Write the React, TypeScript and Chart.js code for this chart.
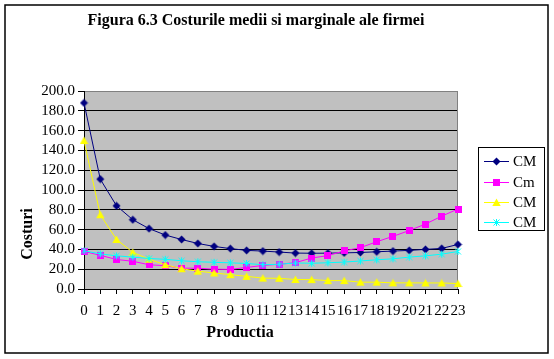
import React, { useEffect, useRef } from 'react';
import { Chart, registerables } from 'chart.js';

Chart.register(...registerables);

const chartTitle = 'Figura 6.3 Costurile medii si marginale ale firmei';
const xTitle = 'Productia';
const yTitle = 'Costuri';

const productia = ['0', '1', '2', '3', '4', '5', '6', '7', '8', '9', '10', '11', '12', '13', '14', '15', '16', '17', '18', '19', '20', '21', '22', '23'];

const costMediuTotal = [188, 111, 84, 70, 61, 54.5, 50, 46, 43, 40.8, 39, 38.3, 37.3, 36.3, 36.1, 36.2, 36.5, 36.9, 37.6, 38.3, 39, 40, 41, 45];
const costMarginal = [38, 34, 29.8, 28, 24.5, 23.5, 21, 21, 20, 19.8, 21.8, 23.8, 25, 26.6, 31.3, 33.7, 38.5, 41.8, 47.7, 53.2, 59, 65.6, 73.6, 80.8];
const costMediuFix = [150, 75, 50, 37, 30, 24.5, 20.5, 18, 16.2, 14.5, 12.8, 11, 10.8, 9.6, 9.5, 8.5, 8.5, 6.9, 6.9, 6.2, 6.2, 6.1, 6.1, 5.5];
const costMediuVariabil = [38.6, 35.5, 33.5, 32.2, 30.8, 30, 28.5, 27.5, 27, 26.4, 25.8, 24.5, 25, 26.3, 26, 26.5, 27.2, 28.3, 29.5, 30.5, 32.2, 33.5, 35.2, 37.9];

const seriesNames = ['CM', 'Cm', 'CM', 'CM'];
const seriesColors = ['#000080', '#FF00FF', '#FFFF00', '#00FFFF'];
const seriesMarkers = ['diamond', 'square', 'triangle', 'asterisk'];

const FONT = "'Liberation Serif', 'Times New Roman', serif";

function makeMarker(kind: string, color: string): HTMLCanvasElement {
  const c = document.createElement('canvas');
  const size = kind === 'square' ? 7 : 9;
  c.width = size;
  c.height = size;
  const ctx = c.getContext('2d')!;
  ctx.fillStyle = color;
  ctx.strokeStyle = color;
  if (kind === 'diamond') {
    ctx.beginPath();
    ctx.moveTo(4.5, 0.5);
    ctx.lineTo(8.5, 4.5);
    ctx.lineTo(4.5, 8.5);
    ctx.lineTo(0.5, 4.5);
    ctx.closePath();
    ctx.fill();
  } else if (kind === 'square') {
    ctx.fillRect(0, 0, 7, 7);
  } else if (kind === 'triangle') {
    ctx.beginPath();
    ctx.moveTo(4.5, 0.5);
    ctx.lineTo(8.7, 8);
    ctx.lineTo(0.3, 8);
    ctx.closePath();
    ctx.fill();
  } else {
    ctx.lineWidth = 1;
    ctx.beginPath();
    ctx.moveTo(1.5, 1.5);
    ctx.lineTo(7.5, 7.5);
    ctx.moveTo(7.5, 1.5);
    ctx.lineTo(1.5, 7.5);
    ctx.moveTo(4.5, 1);
    ctx.lineTo(4.5, 8);
    ctx.stroke();
  }
  return c;
}

export default function App() {
  const ref = useRef<HTMLCanvasElement>(null);

  useEffect(() => {
    if (!ref.current) return;
    const markers = seriesMarkers.map((m, i) => makeMarker(m, seriesColors[i]));
    const values = [costMediuTotal, costMarginal, costMediuFix, costMediuVariabil];

    const decor = {
      id: 'decor',
      beforeDraw(chart: any) {
        const { ctx, chartArea } = chart;
        ctx.save();
        ctx.fillStyle = '#FFFFFF';
        ctx.fillRect(0, 0, chart.width, chart.height);
        ctx.fillStyle = '#C0C0C0';
        ctx.fillRect(chartArea.left, chartArea.top, chartArea.right - chartArea.left, chartArea.bottom - chartArea.top);
        ctx.restore();
      },
      beforeDatasetsDraw(chart: any) {
        const { ctx, chartArea } = chart;
        ctx.save();
        ctx.strokeStyle = '#808080';
        ctx.lineWidth = 1;
        ctx.beginPath();
        ctx.moveTo(Math.round(chartArea.right) - 0.5, chartArea.top);
        ctx.lineTo(Math.round(chartArea.right) - 0.5, chartArea.bottom);
        ctx.stroke();
        ctx.restore();
      },
      afterDraw(chart: any) {
        const { ctx } = chart;
        ctx.save();
        // outer border
        ctx.strokeStyle = '#000';
        ctx.lineWidth = 1.5;
        ctx.strokeRect(5, 5, 543, 348);
        // title
        ctx.fillStyle = '#000';
        ctx.textAlign = 'center';
        ctx.textBaseline = 'middle';
        ctx.font = `bold 16px ${FONT}`;
        ctx.fillText(chartTitle, 256, 21);
        // x title
        ctx.font = `bold 16px ${FONT}`;
        ctx.fillText(xTitle, 240, 333);
        // y title
        ctx.save();
        ctx.translate(28, 234);
        ctx.rotate(-Math.PI / 2);
        ctx.fillText(yTitle, 0, 0);
        ctx.restore();
        // legend
        ctx.lineWidth = 1;
        ctx.strokeStyle = '#000';
        ctx.strokeRect(478.5, 147.5, 66, 83);
        ctx.font = `15px ${FONT}`;
        ctx.textAlign = 'left';
        const ys = [161, 182, 202, 222];
        seriesNames.forEach((name, i) => {
          const y = ys[i];
          ctx.strokeStyle = seriesColors[i];
          ctx.beginPath();
          ctx.moveTo(484, y + 0.5);
          ctx.lineTo(509, y + 0.5);
          ctx.stroke();
          const m = markers[i];
          ctx.drawImage(m, Math.round(496.5 - m.width / 2), Math.round(y + 0.5 - m.height / 2));
          ctx.fillStyle = '#000';
          ctx.fillText(name, 513, y + 1);
        });
        ctx.restore();
      },
    };

    const chart = new Chart(ref.current, {
      type: 'line',
      data: {
        labels: productia,
        datasets: values.map((v, i) => ({
          label: seriesNames[i],
          data: v,
          borderColor: seriesColors[i],
          backgroundColor: seriesColors[i],
          borderWidth: 1,
          pointStyle: markers[i],
          pointRadius: 3,
          pointHoverRadius: 3,
          tension: 0,
          fill: false,
          clip: false,
          order: 4 - i,
        })),
      },
      options: {
        animation: false,
        responsive: false,
        devicePixelRatio: 1,
        events: [],
        layout: { padding: { left: 0, top: 91, right: 96, bottom: 0 } },
        plugins: {
          legend: { display: false },
          title: { display: false },
          tooltip: { enabled: false },
        },
        scales: {
          x: {
            type: 'category',
            offset: false,
            grid: {
              display: true,
              drawOnChartArea: false,
              drawTicks: true,
              tickLength: 5,
              tickColor: '#000',
              color: '#000',
            },
            border: { display: true, color: '#000', width: 1 },
            ticks: {
              autoSkip: false,
              maxRotation: 0,
              minRotation: 0,
              color: '#000',
              font: { family: FONT, size: 15 },
              padding: 8,
            },
            afterFit: (s: any) => {
              s.height = 70;
            },
          },
          y: {
            min: 0,
            max: 200,
            ticks: {
              stepSize: 20,
              autoSkip: false,
              callback: (v: any) => Number(v).toFixed(1),
              color: '#000',
              font: { family: FONT, size: 15 },
              padding: 3,
            },
            grid: {
              color: (ctx: any) => (ctx.tick && ctx.tick.value === 200 ? '#808080' : '#000'),
              tickColor: '#000',
              tickLength: 6,
              drawTicks: true,
            },
            border: { display: true, color: '#000', width: 1 },
            afterFit: (s: any) => {
              s.width = 84;
            },
          },
        },
      },
      plugins: [decor],
    } as any);

    return () => chart.destroy();
  }, []);

  return (
    <div style={{ position: 'fixed', left: 0, top: 0, width: 554, height: 359, background: '#fff' }}>
      <canvas ref={ref} width={554} height={359} style={{ display: 'block', width: 554, height: 359 }} />
    </div>
  );
}
